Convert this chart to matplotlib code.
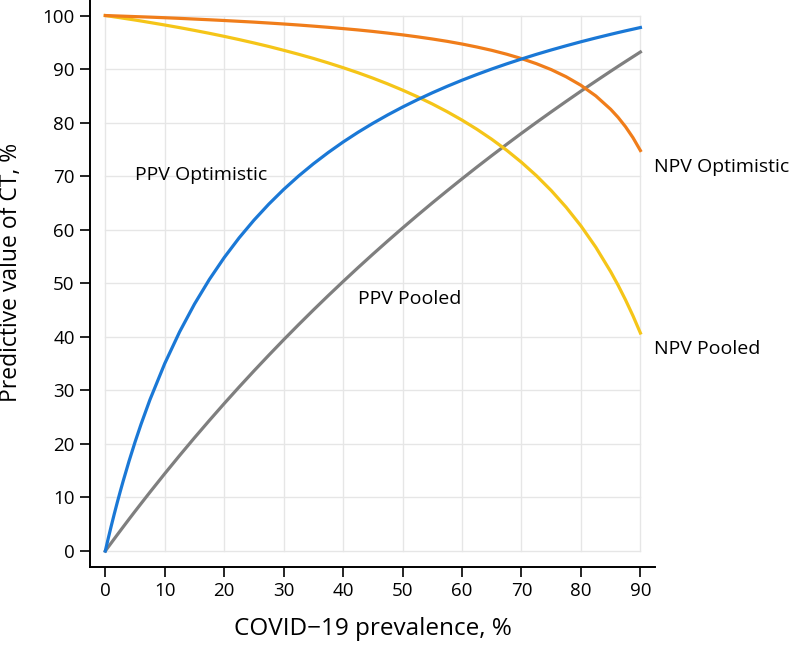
import matplotlib
matplotlib.use("Agg")
import matplotlib.pyplot as plt

plt.rcParams['font.family'] = ['Open Sans', 'DejaVu Sans']

prev = [0, 0.5, 1, 1.5, 2, 2.5, 3, 4, 5, 6, 7.5, 10, 12.5, 15, 17.5, 20, 22.5, 25, 27.5, 30,
        32.5, 35, 37.5, 40, 42.5, 45, 47.5, 50, 52.5, 55, 57.5, 60, 62.5, 65, 67.5, 70,
        72.5, 75, 77.5, 80, 82.5, 85, 86.25, 87.5, 88.75, 90]
ppv_opt = [0, 2.38, 4.67, 6.88, 9.01, 11.06, 13.04, 16.81, 20.34, 23.64, 28.23, 35.02, 40.93,
           46.12, 50.71, 54.80, 58.47, 61.78, 64.78, 67.52, 70.02, 72.31, 74.42, 76.38, 78.19,
           79.87, 81.44, 82.91, 84.28, 85.57, 86.78, 87.92, 88.99, 90.01, 90.97, 91.88, 92.75,
           93.57, 94.35, 95.10, 95.81, 96.49, 96.82, 97.14, 97.45, 97.76]
ppv_pool = [0, 0.76, 1.51, 2.26, 3.01, 3.75, 4.49, 5.96, 7.41, 8.84, 10.97, 14.45, 17.84, 21.15,
            24.38, 27.54, 30.62, 33.63, 36.57, 39.45, 42.26, 45.01, 47.70, 50.33, 52.91, 55.43,
            57.90, 60.32, 62.69, 65.01, 67.28, 69.51, 71.70, 73.84, 75.94, 78.01, 80.03, 82.01,
            83.96, 85.88, 87.75, 89.60, 90.51, 91.41, 92.30, 93.19]
npv_opt = [100, 99.98, 99.96, 99.94, 99.92, 99.90, 99.88, 99.84, 99.80, 99.76, 99.70, 99.59,
           99.47, 99.34, 99.21, 99.07, 98.92, 98.77, 98.60, 98.42, 98.23, 98.02, 97.80, 97.56,
           97.31, 97.03, 96.72, 96.39, 96.02, 95.62, 95.18, 94.68, 94.12, 93.50, 92.78, 91.96,
           91.01, 89.90, 88.57, 86.97, 84.99, 82.49, 80.98, 79.23, 77.19, 74.79]
npv_pool = [100, 99.92, 99.84, 99.75, 99.67, 99.59, 99.50, 99.33, 99.16, 98.98, 98.70, 98.23,
            97.74, 97.22, 96.68, 96.11, 95.51, 94.88, 94.22, 93.51, 92.77, 91.99, 91.15, 90.26,
            89.32, 88.31, 87.23, 86.07, 84.83, 83.49, 82.04, 80.47, 78.76, 76.89, 74.85, 72.59,
            70.10, 67.32, 64.21, 60.71, 56.73, 52.17, 49.63, 46.89, 43.93, 40.71]

xticks = [0, 10, 20, 30, 40, 50, 60, 70, 80, 90]
yticks = [0, 10, 20, 30, 40, 50, 60, 70, 80, 90, 100]

fig = plt.figure(figsize=(7.91, 6.47), dpi=100)
ax = fig.add_axes([0.1138, 0.1241, 0.8284 - 0.1138, 1.0 - 0.1241])

for xv in xticks:
    ax.plot([xv, xv], [0, 100], color='#e6e6e6', lw=1, zorder=0)
for yv in yticks:
    ax.plot([0, 90], [yv, yv], color='#e6e6e6', lw=1, zorder=0)

lw = 2.3
ax.plot(prev, ppv_pool, color='#7f7f7f', lw=lw, zorder=3)
ax.plot(prev, npv_pool, color='#f5c518', lw=lw, zorder=3)
ax.plot(prev, ppv_opt, color='#1a78d6', lw=lw, zorder=4)
ax.plot(prev, npv_opt, color='#f07d1a', lw=lw, zorder=3)

ax.set_xlim(-2.57, 92.5)
ax.set_ylim(-2.93, 102.9)
ax.set_xticks(xticks)
ax.set_yticks(yticks)
ax.tick_params(axis='both', direction='out', length=7, width=1.2, labelsize=13.5, colors='black', pad=4)

for s in ['top', 'right']:
    ax.spines[s].set_visible(False)
for s in ['left', 'bottom']:
    ax.spines[s].set_linewidth(1.4)

fs = 14
ax.text(5.0, 70.2, 'PPV Optimistic', fontsize=fs, ha='left', va='center')
ax.text(42.5, 47.1, 'PPV Pooled', fontsize=fs, ha='left', va='center')
ax.text(92.3, 71.7, 'NPV Optimistic', fontsize=fs, ha='left', va='center', clip_on=False)
ax.text(92.3, 37.7, 'NPV Pooled', fontsize=fs, ha='left', va='center', clip_on=False)

ax.set_xlabel('COVID\u221219 prevalence, %', fontsize=17.5, labelpad=12)
ax.set_ylabel('Predictive value of CT, %', fontsize=16.5)
ax.yaxis.set_label_coords(-0.118, 0.52)

fig.savefig('out.png', dpi=100)
